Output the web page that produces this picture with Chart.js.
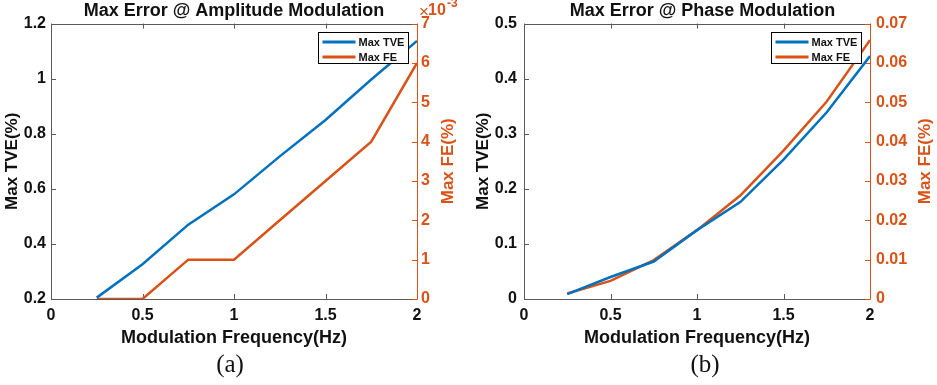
<!DOCTYPE html>
<html>
<head>
<meta charset="UTF-8">
<title>Max Error @ Modulation</title>
<script src="https://cdn.jsdelivr.net/npm/chart.js"></script>
<style>
  html, body { margin: 0; padding: 0; background: #fff; }
  .wrap { position: absolute; top: 0; height: 385px; }
  #wa { left: 0; width: 468px; }
  #wb { left: 468px; width: 469px; }
  .cap {
    position: absolute; top: 350px;
    font-family: 'Liberation Serif', 'Times New Roman', serif;
    font-size: 25px; color: #111;
    transform: translateX(-50%);
  }
</style>
</head>
<body>
<div class="wrap" id="wa"><canvas id="chartA"></canvas></div>
<div class="wrap" id="wb"><canvas id="chartB"></canvas></div>
<div class="cap" style="left:230px">(a)</div>
<div class="cap" style="left:705px">(b)</div>

<script>
// modulation frequency (Hz)
const freq = [0.25, 0.5, 0.75, 1, 1.25, 1.5, 1.75, 2];

// (a) amplitude modulation
const amTve = [0.205, 0.326, 0.47, 0.58, 0.718, 0.85, 0.997, 1.137];
const amFe = [0, 0, 0.001, 0.001, 0.002, 0.003, 0.004, 0.006];

// (b) phase modulation
const pmTve = [0.009, 0.040, 0.068, 0.125, 0.176, 0.253, 0.339, 0.441];
const pmFe = [0.0014, 0.0046, 0.0099, 0.0175, 0.0263, 0.0377, 0.0502, 0.0658];

const BLUE = '#0072BD';
const ORANGE = '#D95319';
const AXIS = '#5a5a5a';
const TEXT = '#111';
const FONT = "'Liberation Sans', Arial, sans-serif";

const toPoints = (ys) => freq.map((x, i) => ({ x: x, y: ys[i] }));
// matlab style: 1 not 1.0
const plain = (v) => String(Number(v.toFixed(4)));

// MATLAB-like box, inward ticks, legend inside, right label reading upwards
const matlabFrame = {
  id: 'matlabFrame',
  beforeDatasetsDraw(chart) {
    const { ctx, chartArea: a, scales } = chart;
    const tl = 5;
    const seg = (x1, y1, x2, y2) => { ctx.beginPath(); ctx.moveTo(x1, y1); ctx.lineTo(x2, y2); ctx.stroke(); };
    ctx.save();
    ctx.lineWidth = 1;
    ctx.strokeStyle = AXIS;
    scales.x.ticks.forEach(t => {
      const px = Math.round(scales.x.getPixelForValue(t.value)) + 0.5;
      seg(px, a.bottom, px, a.bottom - tl);
      seg(px, a.top, px, a.top + tl);
    });
    scales.y.ticks.forEach(t => {
      const py = Math.round(scales.y.getPixelForValue(t.value)) + 0.5;
      seg(a.left, py, a.left + tl, py);
    });
    const L = Math.round(a.left) + 0.5, R = Math.round(a.right) + 0.5;
    const T = Math.round(a.top) + 0.5, B = Math.round(a.bottom) + 0.5;
    seg(L, T, L, B);
    seg(L, B, R, B);
    seg(L, T, R, T);
    ctx.strokeStyle = ORANGE;
    scales.y1.ticks.forEach(t => {
      const py = Math.round(scales.y1.getPixelForValue(t.value)) + 0.5;
      seg(a.right, py, a.right - tl, py);
    });
    seg(R, T, R, B);
    ctx.restore();
  },
  afterDatasetsDraw(chart, args, opts) {
    const { ctx, chartArea: a } = chart;
    ctx.save();
    // legend
    const w = 90, h = 31;
    const lx = Math.round(a.right - 9 - w) + 0.5, ly = Math.round(a.top + 8) + 0.5;
    ctx.fillStyle = '#fff';
    ctx.fillRect(lx, ly, w, h);
    ctx.strokeStyle = '#000';
    ctx.lineWidth = 1;
    ctx.strokeRect(lx, ly, w, h);
    ctx.font = 'bold 11px ' + FONT;
    ctx.textBaseline = 'middle';
    chart.data.datasets.forEach((ds, i) => {
      const cy = ly + 9.5 + i * 15;
      ctx.strokeStyle = ds.borderColor;
      ctx.lineWidth = 3;
      ctx.beginPath();
      ctx.moveTo(lx + 4, cy);
      ctx.lineTo(lx + 37, cy);
      ctx.stroke();
      ctx.fillStyle = TEXT;
      ctx.fillText(ds.label, lx + 40, cy + 1);
    });
    // right axis title
    ctx.fillStyle = ORANGE;
    ctx.font = 'bold 17px ' + FONT;
    ctx.textAlign = 'center';
    ctx.translate(a.right + opts.rightTitleOffset, (a.top + a.bottom) / 2);
    ctx.rotate(-Math.PI / 2);
    ctx.fillText(opts.rightTitle, 0, 0);
    ctx.restore();
    // exponent marker
    if (opts.exponent) {
      ctx.save();
      ctx.fillStyle = ORANGE;
      ctx.textBaseline = 'middle';
      ctx.font = '17px ' + FONT;
      ctx.fillText('\u00d7', a.right + 2, 12);
      ctx.font = 'bold 16px ' + FONT;
      ctx.fillText('10', a.right + 11, 11);
      ctx.font = 'bold 12px ' + FONT;
      ctx.fillText(opts.exponent, a.right + 30, 4);
      ctx.restore();
    }
  }
};

function makeChart(id, title, tve, fe, cfg) {
  new Chart(document.getElementById(id), {
    type: 'line',
    data: {
      datasets: [
        { label: 'Max TVE', data: toPoints(tve), borderColor: BLUE, yAxisID: 'y' },
        { label: 'Max FE', data: toPoints(fe), borderColor: ORANGE, yAxisID: 'y1' }
      ]
    },
    options: {
      responsive: true,
      maintainAspectRatio: false,
      animation: false,
      layout: { padding: { left: 0, right: 0, top: 0, bottom: 36 } },
      elements: {
        line: { borderWidth: 2.5, tension: 0 },
        point: { radius: 0 }
      },
      plugins: {
        legend: { display: false },
        tooltip: { enabled: false },
        title: {
          display: true, text: title, color: TEXT,
          font: { family: FONT, size: 18, weight: 'bold' },
          padding: { top: 0, bottom: 2 }
        },
        matlabFrame: { rightTitle: 'Max FE(%)', rightTitleOffset: cfg.rightTitleOffset, exponent: cfg.exponent }
      },
      scales: {
        x: {
          type: 'linear', min: 0, max: 2,
          ticks: { stepSize: 0.5, color: TEXT, padding: 7, callback: plain, font: { family: FONT, size: 16, weight: 'bold' } },
          grid: { display: false, drawTicks: false },
          border: { display: false },
          title: {
            display: true, text: 'Modulation Frequency(Hz)', color: TEXT,
            font: { family: FONT, size: 18, weight: 'bold' }, padding: 0
          },
          afterFit(s) { s.height = 50; }
        },
        y: {
          type: 'linear', position: 'left', min: cfg.yMin, max: cfg.yMax,
          ticks: { stepSize: cfg.yStep, color: TEXT, padding: cfg.leftPad, callback: plain, font: { family: FONT, size: 16, weight: 'bold' } },
          grid: { display: false, drawTicks: false },
          border: { display: false },
          title: {
            display: true, text: 'Max TVE(%)', color: TEXT,
            font: { family: FONT, size: 17, weight: 'bold' }, padding: { top: cfg.leftTitlePad, bottom: 0 }
          },
          afterFit(s) { s.width = cfg.leftWidth; }
        },
        y1: {
          type: 'linear', position: 'right', min: 0, max: cfg.y1Max,
          ticks: {
            stepSize: cfg.y1Step, color: ORANGE, padding: cfg.rightPad,
            font: { family: FONT, size: 16, weight: 'bold' },
            callback: cfg.y1Format
          },
          grid: { display: false, drawTicks: false },
          border: { display: false },
          afterFit(s) { s.width = cfg.rightWidth; }
        }
      }
    },
    plugins: [matlabFrame]
  });
}

makeChart('chartA', 'Max Error @ Amplitude Modulation', amTve, amFe, {
  yMin: 0.2, yMax: 1.2, yStep: 0.2, y1Max: 0.007, y1Step: 0.001,
  y1Format: v => plain(v * 1000),
  leftWidth: 51, rightWidth: 51, leftPad: 5, rightPad: 4, leftTitlePad: 2,
  rightTitleOffset: 31, exponent: '-3'
});

makeChart('chartB', 'Max Error @ Phase Modulation', pmTve, pmFe, {
  yMin: 0, yMax: 0.5, yStep: 0.1, y1Max: 0.07, y1Step: 0.01,
  y1Format: plain,
  leftWidth: 56, rightWidth: 67, leftPad: 7, rightPad: 6, leftTitlePad: 5,
  rightTitleOffset: 55, exponent: null
});
</script>
</body>
</html>
